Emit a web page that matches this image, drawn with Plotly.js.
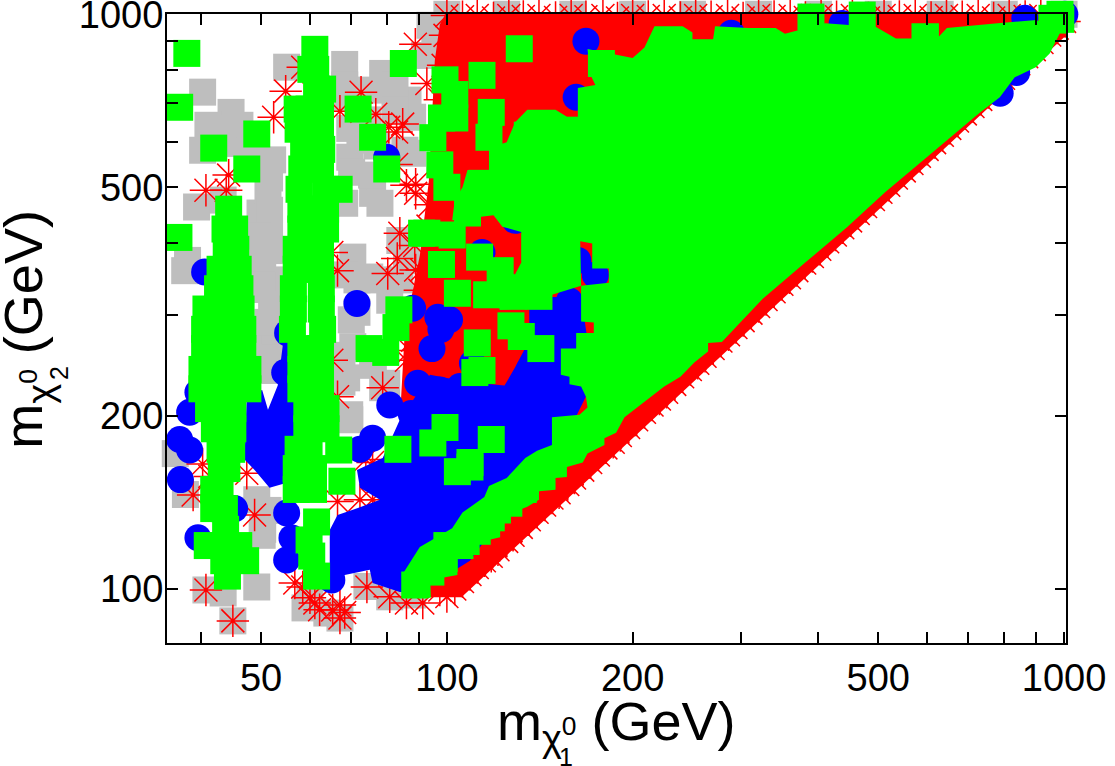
<!DOCTYPE html>
<html>
<head>
<meta charset="utf-8">
<script src="https://cdn.plot.ly/plotly-3.0.1.min.js"></script>
<style>
	html, body { margin: 0; padding: 0; background: #fff; }
</style>
</head>
<body>
<div id="graph" style="width:1115px;height:766px;"></div>
<script>
//all masses in GeV

//grey squares, bottom layer
var grey_m1 = [40.2,44.7,41.0,40.2,55.0,68.3,78.7,86.5,68.8,72.3,69.6,52.2,39.3,43.4,49.8,51.6,50.3,38.0,52.2,68.3,75.8,77.9,70.4,75,71.5,83.9,86,88,77,88,71.5,70.4,67.6,67.6,69.6,75.8,79.9,51.6,51.6,37.7,50.3,49.2,49.2,43.4,40.7,45,67.1,63.9,74.2,60,81.5,88,36.3,50.2,51.3,52.6,45.3,95.6,92,93.9,100,125,160,200,250,320,400,500,630,800,1000,1040,
	42.9,46.2,47.9,51.6,51.6,49.4,52.8,50.2,52,51.3,68.3,75.5,82.4,69.6,74.5,82.4,70.1,75.5,85.5,80.8,70,68.3,76.4,83.9,68.8,69.6,76,78.7,51.3,50.2,58.9,80.8,37.6]
var grey_m2 = [732,675,641,580,809,818,789,709,717,604,564,558,462,475,451,416,373,373,345,469,488,469,378,349,345,404,373,573,590,662,303,264,229,255,201,247,228,240,265,146,127,143,100.8,98.4,99.6,88,89,90.8,101,96.9,98.4,97.6,172,332,494,281,596,930,848,957,1000,1000,1000,1000,1000,1000,1000,1000,1000,1000,1000,1000,
	634,641,579,519,456,411,388,338,312,291,753,738,753,633,655,681,531,525,580,318,294,352,345,345,233,197,245,224,137,124,92.7,96.9,358]

//solid red area under the asterisks
var red_area_m1 = [101,1046,1050,108.5,105.8,93.9,84.7,92.1,83.9,85.5,90.4,93.5,95.6,97.4]
var red_area_m2 = [1031,1031,957,99.6,96.9,96.9,99.6,148.7,196.8,282,381,513,832,960]

//red asterisks: scattered ones, then the rows along the top and the diagonal
var star_m1 = [88.9,72.6,54.8,52.4,76.7,80.5,84.8,82.9,44.3,40.7,43.9,89,89,86,83.1,80.2,89,82.9,67.1,58.4,92.8,66.5,83.9,65.1,40.7,45,48.8,38.8,40.2,41.3,67.1,65.3,61.1,58.4,74.2,80.8,91.4,86,56.7,47.4,86,88,78.7,73.9,75.8,66.5,65.1,72.3,66.5,75.8,97.4,99.3,98.6,97.4,93.9,93.2,91,90.4,87.1,85.5,88.7,60,62.2,68.3,67.1,
	100,106,112,119,126,133,141,150,159,168,179,189,200,212,225,239,253,268,285,302,320,339,360,381,404,428,454,482,511,541,574,609,645,684,726,769,815,865,917,972,1030,
	100,103,106,109,112,115,118,121,125,128,132,136,140,144,148,152,157,161,166,171,176,181,186,191,197,203,209,215,221,227,234,241,248,255,262,270,278,286,294,302,311,320,329,339,349,359,369,380,391,402,414,426,438,451,464,477,491,505,520,535,551,567,583,600,617,635,653,672,692,712,733,754,776,798,821,845,870,895,921,948,975,1002,1030]
var star_m2 = [887,732,735,662,670,636,644,624,525,494,494,506,488,504,376,354,359,548,678,809,758,358,416,385,99.6,88,134.5,145.7,165,157,89,91.9,94.5,100.8,100.8,96.9,94.5,94.5,102.4,159,250,271,224,168,166,216,250,143,142,143,99.6,919,815,710,466,428,359,331,260,288,396,96.5,92,91,93.8,
	995,990,995,985,995,991,995,987,995,990,995,985,995,991,995,987,995,990,995,985,995,991,995,987,995,990,995,985,995,991,995,987,995,990,995,985,995,991,995,987,995,
	97,100,103,106,109,112,114,117,121,124,128,132,136,140,144,147,152,156,161,166,171,176,180,185,191,197,203,209,214,220,227,234,241,247,254,262,270,277,285,293,302,310,319,329,339,348,358,369,379,390,402,413,425,437,450,463,476,490,504,519,534,550,566,582,598,616,633,652,671,691,711,731,753,774,796,820,844,868,893,920,946,972,999]

//solid blue areas under the circles
var blue_low_m1 = [64.6,66.5,72.3,77.9,72.3,71.5,78.7,83.9,93.9,108.5,124,129,136,136,148,165,170,170,158,147,122,109,90.4,83.9,75.8,75,68.3,64.6]
var blue_low_m2 = [126.6,134.5,138.7,143,150,161,169,197,236,229,226,243,271,309,322,322,260,222,189,161,132,112,98.8,98.8,102.4,108,105.8,105.8]
var blue_mid_m1 = [47.4,50.2,51.3,53.2,54.6,56.7,56.7,51.6,48.8,47]
var blue_mid_m2 = [217,222,205,226,282,282,154.5,150,161,168]

//blue circles
var blue_m1 = [79.9,71.5,88,96.7,101,168,162,289,114,163,129,158,437,864,1003,838,788,37,36.9,38.3,38.3,39.5,39.5,45.3,55,56.1,55,55.2,54.6,94.6,97.8,80.8,87.5,89.7,75.8,72.3,65.1,105,110,136,134,97.4,40.5,154,174,158]
var blue_m2 = [564,314,308,297,294,898,717,927,385,373,438,500,964,984,1000,792,729,155,182,174.5,203,220,122.8,138,135.6,122.7,112.3,279,238,262,283,209,202,228,183,175,103.7,225,247,241,225,222,356,300,352,317]

//solid green areas, outlines read along the edge of the squares
var green_area_m1 = [169,200,209,217,241,250,250,270,272,308,341,353,410,496,534,566,566,627,627,646,780,902,985,948,900,832,787,731,513,445,380,325,298,279,265,265,252,239,225,213,200,194,188,180,180,169,166,156.5,156.5,150,150,141,141,135,127,127,122,122,113,113,104,104,94,94.2,85.2,85.2,90.4,102,106,115,117,125,134,140,148,148,164,169,168,165,158,158,153,153,162,162,173,173,165,165,183,183,172,172,162,162,161,163,163,174,171]
var green_area_m2 = [870,839,875,953,953,930,905,905,953,947,947,925,965,950,908,908,965,965,915,947,965,977,928,855,809,777,717,675,490,426,369,320,290,269,268,259,248,234,225,215,204,199,187,183,178,172,166,163,156.6,156,148.8,148,143,139,135.5,130,130,123,120.7,114.6,114.6,105.8,103.7,96.5,96.5,107,118.3,127.6,135.8,144.6,151,156,169,174,178,199,201,207,216,225,227,234,236,262,262,279,279,291,292,337,341,361,361,399,404,456,580,655,744,753,783]
var green_mid_m1 = [135,150,156.5,163,165,148,135,122,116,129,132,132,123,119,102,103,106,108,117,117,125,129]
var green_mid_m2 = [682,682,663,663,337,325,308,306,355,353,370,418,427,447,438,475,500,536,536,585,599,649]

//green squares: left column, second column, loose ones, stairs at the low end of the diagonal
var green_m1 = [44.3,43.7,45.3,43.9,45.5,42.9,45.9,42.5,46.2,40.7,44.3,46.4,40.5,43.4,46.7,40.5,43.4,46.7,40.1,43.7,47.6,40.1,43.7,47.6,41.1,45,42,45,42.9,44.8,43.1,44,41.9,42.9,41.9,43.6,43.8,40.9,43.5,46,43.5,47.2,44.1,
	61.1,60.2,61.3,61.5,62.9,57.2,59.8,62.4,57.4,59.8,62.4,58.6,62.7,58.2,62.4,57.6,63.6,58,63.6,58,63.6,57,62.4,57,62.4,56.4,62.6,56.4,62.6,56.2,62.9,58,62.4,58,62.4,58,62.4,59.3,63.7,59.3,63.7,57.4,59.8,57,60.8,57,60.8,66.9,66.8,67.6,61.5,59.8,60.4,61.5,
	37.9,36.9,49.2,41.9,47.4,36.8,85,71.8,75.8,79.9,91,74.8,79.6,83.6,82.7,83.3,94.9,99.3,104,109,111,112,131,99.3,114,103,98,103,118,117,142,135,94.9,97.4,100,131,147,114,112,120,108,130,102,98,104,113,122,116,128,127,141,132,142,114,118,109,139,156,140,171,149,162,173,162,172,178,192,92.8,389,471,956,988,
	88.7,94.2,95.5,100,99,105,112,118,126,133,142,960,985]
var green_m2 = [458,423,423,390,390,360,360,333,333,307,307,307,283,283,283,262,262,262,241,241,241,223,223,223,206,206,190,190,175,175,162,162,149,149,138,138,127,119,119,119,112,112,105.3,
	869,802,802,741,741,684,684,684,631,631,631,582,582,538,538,496,496,458,458,423,423,390,390,360,360,333,333,307,307,283,283,262,262,241,241,223,223,206,206,190,190,175,175,162,162,149,149,496,174.5,154,130.8,121.7,114.1,105.3,
	855,689,619,585,538,409,821,684,611,538,416,262,258,306,285,175,179.5,191,160,166,238,268,871,769,783,725,660,660,675,611,642,616,610,547,500,564,575,508,475,475,451,451,413,367,327,378,358,325,323,287,323,275,262,240,182,163,393,363,335,427,540,488,475,628,700,821,795,416,989,997,984,980,
	101.6,107,112,119,113,119,126,133,141,149,158,977,1000]

var x_ticks = [50,100,200,500,1000]
var x_labels = ['50','100','200','500','1000']
var x_minor = [40,60,70,80,90,300,400,600,700,800,900]
var y_ticks = [100,200,500,1000]
var y_labels = ['100','200','500','1000']
var y_minor = [300,400,600,700,800,900]

var red = '#ff0000'
var blue = '#0000ff'
var green = '#00ff00'
var grey = '#bebebe'

function area(x, y, color) {
	return {x: x, y: y, mode: 'lines', fill: 'toself', fillcolor: color, line: {width: 0, color: color}, hoverinfo: 'none', cliponaxis: false}
}

function points(x, y, symbol, color) {
	return {x: x, y: y, mode: 'markers', hoverinfo: 'none', cliponaxis: false,
		marker: {symbol: symbol, size: 27, color: color, line: {width: 0}}}
}

var stars = {x: star_m1, y: star_m2, mode: 'markers', hoverinfo: 'none', cliponaxis: false,
	marker: {symbol: 'asterisk-open', size: 27, color: red, line: {width: 1.5, color: red}}}

var traces = [
	points(grey_m1, grey_m2, 'square', grey),
	area(red_area_m1, red_area_m2, red),
	stars,
	area(blue_low_m1, blue_low_m2, blue),
	area(blue_mid_m1, blue_mid_m2, blue),
	points(blue_m1, blue_m2, 'circle', blue),
	area(green_area_m1, green_area_m2, green),
	area(green_mid_m1, green_mid_m2, green),
	points(green_m1, green_m2, 'square', green)
]

var font_name = 'Liberation Sans, Arial, sans-serif'
var tick_font = {family: font_name, size: 38, color: '#000'}
var title_font = {family: font_name, size: 54, color: '#000'}
var index_font = {family: font_name, size: 25, color: '#000'}

var layout = {
	width: 1115,
	height: 766,
	margin: {l: 167, r: 49, t: 14, b: 123},
	paper_bgcolor: '#fff',
	plot_bgcolor: '#fff',
	showlegend: false,
	xaxis: {
		type: 'log',
		range: [1.5465, 3.0032],
		autorange: false,
		showgrid: false,
		zeroline: false,
		showline: true,
		mirror: 'ticks',
		linecolor: '#000',
		linewidth: 2,
		ticks: 'inside',
		ticklen: 11,
		tickwidth: 1.5,
		tickcolor: '#000',
		tickmode: 'array',
		tickvals: x_ticks,
		ticktext: x_labels,
		tickangle: 0,
		tickfont: tick_font,
		ticklabeloverflow: 'allow',
		minor: {tickmode: 'array', tickvals: x_minor, ticks: 'inside', ticklen: 11, tickwidth: 1.5, tickcolor: '#000', showgrid: false}
	},
	yaxis: {
		type: 'log',
		range: [1.906, 3.0005],
		autorange: false,
		showgrid: false,
		zeroline: false,
		showline: true,
		mirror: 'ticks',
		linecolor: '#000',
		linewidth: 2,
		ticks: 'inside',
		ticklen: 11,
		tickwidth: 2,
		tickcolor: '#000',
		tickmode: 'array',
		tickvals: y_ticks,
		ticktext: y_labels,
		tickfont: tick_font,
		ticklabelstandoff: -6,
		ticklabeloverflow: 'allow',
		minor: {tickmode: 'array', tickvals: y_minor, ticks: 'inside', ticklen: 11, tickwidth: 2, tickcolor: '#000', showgrid: false}
	},
	//the axis titles carry two indices above each other, so they are placed by hand
	annotations: [
		{text: 'm<sub>χ<sup>0</sup></sub> (GeV)', xref: 'paper', yref: 'paper', x: 0.5, y: -0.187, showarrow: false, font: title_font},
		{text: '1', xref: 'paper', yref: 'paper', x: 0.4438, y: -0.206, showarrow: false, font: index_font},
		{text: 'm<sub>χ<sup>0</sup></sub> (GeV)', xref: 'paper', yref: 'paper', x: -0.1955, y: 0.4985, textangle: -90, showarrow: false, font: title_font},
		{text: '2', xref: 'paper', yref: 'paper', x: -0.138, y: 0.429, textangle: -90, showarrow: false, font: index_font}
	]
}

Plotly.newPlot('graph', traces, layout, {displayModeBar: false})
</script>
</body>
</html>
